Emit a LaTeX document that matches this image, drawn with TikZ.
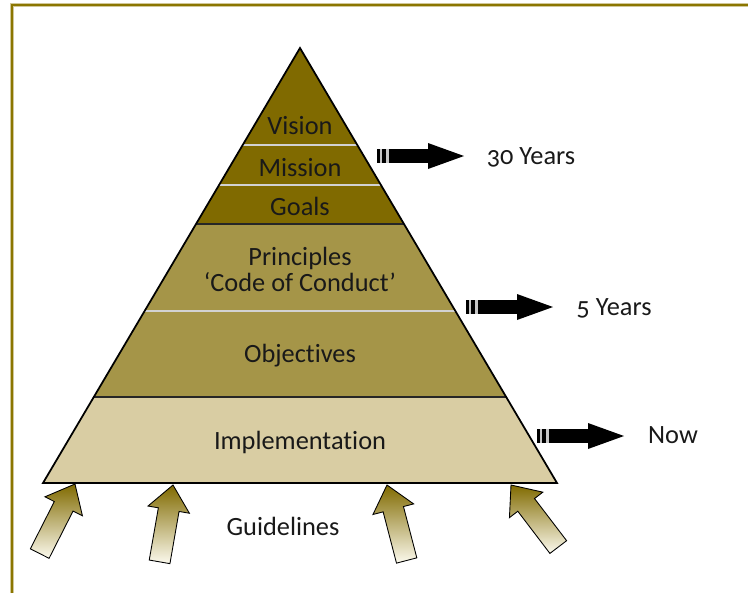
\documentclass[tikz,border=0pt]{standalone}
\usepackage{fontspec}
\setmainfont{Carlito}[Ligatures={NoCommon}]
\usetikzlibrary{calc}
\definecolor{olivedark}{RGB}{128,106,0}
\definecolor{olivemid}{RGB}{165,149,72}
\definecolor{olivelight}{RGB}{217,205,163}
\definecolor{frameolive}{RGB}{139,118,0}
\definecolor{cream}{RGB}{252,250,238}
\tikzset{
  seplight/.style={draw=gray!35, line width=0.7pt},
  sepdark/.style={draw=black!85, line width=0.8pt},
  txt/.style={font=\fontsize{15}{14.6}\selectfont, text=black!90, inner sep=0pt, anchor=base},
  stripearrow/.pic={
    \fill[black] (0,-7) rectangle (3.3,7);
    \fill[gray!45] (3.3,-7) rectangle (5.3,7);
    \fill[black] (5.3,-7) rectangle (9.3,7);
    \fill[gray!45] (9.3,-7) rectangle (12,7);
    \fill[black] (12,-7) rectangle (51.5,7);
    \fill[black] (51,-13) -- (87,0) -- (51,13) -- cycle;
  },
  pusharrow/.pic={
    \shade[draw=black, line width=0.5pt, line join=miter, top color=olivedark, bottom color=cream]
      (0,0) -- (21,25) -- (10.5,25) -- (10.5,78) -- (-10.5,78) -- (-10.5,25) -- (-21,25) -- cycle;
  }
}
\begin{document}
\begin{tikzpicture}[x=0.02cm, y=-0.02cm]
    \useasboundingbox (0,0) rectangle (748,593);
    \draw[frameolive!40, line width=1.9pt, line join=miter] (12,593) -- (12,5) -- (748,5);
    \draw[frameolive, line width=1.1pt, line join=miter] (12,593) -- (12,5) -- (748,5);

    \coordinate (apex) at (300,48);
    \coordinate (bl) at (43,483);
    \coordinate (br) at (557,483);
    \foreach \ta/\tb/\col in {0/0.4046/olivedark, 0.4046/0.802/olivemid, 0.802/1/olivelight}
      \fill[\col] ($(apex)!\ta!(bl)$) -- ($(apex)!\tb!(bl)$) -- ($(apex)!\tb!(br)$) -- ($(apex)!\ta!(br)$) -- cycle;
    \foreach \t/\sty in {0.223/seplight, 0.315/seplight, 0.6046/seplight, 0.4046/sepdark, 0.802/sepdark}
      \draw[\sty] ($(apex)!\t!(bl)$) -- ($(apex)!\t!(br)$);
    \draw[black, line width=1pt, line join=miter] (apex) -- (bl) -- (br) -- cycle;

    \node[txt] (vision) at (300,134) {Vision};
    \node[txt] (mission) at (300,176) {Mission};
    \node[txt] (goals) at (300,215) {Goals};
    \node[txt] (principles) at (300,265) {Principles};
    \node[txt] (conduct) at (300,291) {‘Code of Conduct’};
    \node[txt] (objectives) at (300,362) {Objectives};
    \node[txt] (implementation) at (300,449) {Implementation};
    \node[txt] (guidelines) at (283,535) {Guidelines};

    \pic at (377,156) {stripearrow};
    \pic at (466,307) {stripearrow};
    \pic at (537,436) {stripearrow};
    \node[txt] (thirty) at (531,164) {\addfontfeatures{Numbers=OldStyle}30 Years};
    \node[txt] (five) at (614,315) {\addfontfeatures{Numbers=OldStyle}5 Years};
    \node[txt] (now) at (673,443) {Now};

    \pic[rotate=-26.9] at (75,484) {pusharrow};
    \pic[rotate=-9.9] at (173,485) {pusharrow};
    \pic[rotate=14.6] at (387,485) {pusharrow};
    \pic[rotate=37.3] at (511,485) {pusharrow};
\end{tikzpicture}
\end{document}
